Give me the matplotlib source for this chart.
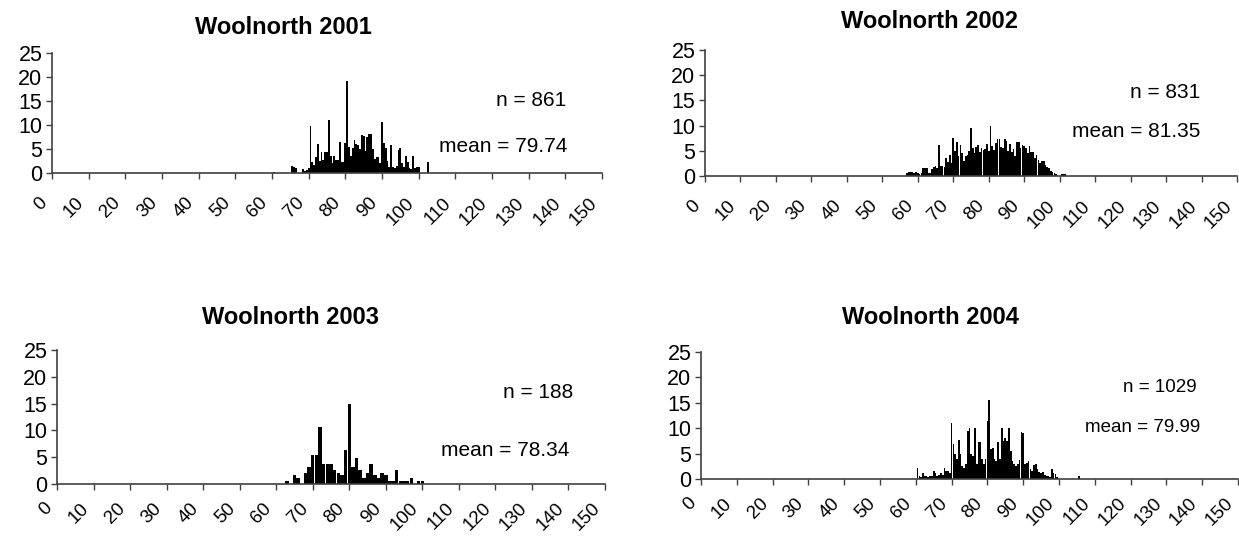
import numpy as np
import matplotlib
matplotlib.use("Agg")
import matplotlib.pyplot as plt
from matplotlib.transforms import ScaledTranslation

plt.rcParams['font.family'] = ['Liberation Sans', 'DejaVu Sans']

W, H = 1239, 536

# ---- data (percent of animals per length class) ----
titles = ["Woolnorth 2001", "Woolnorth 2002", "Woolnorth 2003", "Woolnorth 2004"]
n_text = ["n = 861", "n = 831", "n = 188", "n = 1029"]
mean_text = ["mean = 79.74", "mean = 81.35", "mean = 78.34", "mean = 79.99"]
x_ticks = list(range(0, 151, 10))
y_ticks = list(range(0, 26, 5))

# first length class and class step of each panel
start_2001, step_2001 = 60.0, 0.5
pct_2001 = [0, 0.3, 0, 0, 0, 0, 0, 0, 0, 0, 0, 1.5, 1.2, 1.0, 0, 0, 0, 0.8, 0.5, 0.6,
            1.0, 9.7, 2.3, 1.6, 3.3, 6.1, 2.5, 4.3, 2.8, 4.3, 4.3, 11.0, 3.6, 2.0, 3.5, 2.7,
            2.8, 6.4, 2.3, 2.3, 6.3, 19.2, 5.5, 3.5, 5.3, 6.9, 6.0, 5.8, 5.0, 8.0, 7.8, 4.5,
            7.6, 8.1, 8.1, 5.0, 3.0, 3.4, 3.4, 2.0, 10.6, 6.3, 5.3, 2.5, 1.2, 5.8, 1.2, 1.0,
            1.5, 4.7, 5.3, 2.0, 1.2, 3.5, 2.3, 1.0, 0.8, 3.5, 1.0, 1.2, 1.2, 0, 0, 0, 0, 2.3]

start_2002, step_2002 = 57.0, 0.5
pct_2002 = [0.6, 0.7, 0.7, 0.7, 0.5, 0.7, 0.5, 0.4, 0.5, 1.5, 1.5, 1.5, 0.5, 0.6, 1.3, 1.8,
            2.0, 1.5, 6.2, 2.0, 2.0, 1.8, 3.5, 2.8, 4.2, 2.5, 7.5, 5.0, 6.8, 4.0, 6.2, 4.5,
            3.0, 4.0, 4.2, 5.0, 9.5, 5.5, 4.5, 5.8, 6.1, 4.8, 5.5, 5.2, 5.4, 6.3, 5.0, 10.0,
            6.0, 5.2, 6.5, 7.3, 7.4, 5.8, 5.5, 7.4, 6.9, 5.0, 6.4, 4.8, 5.4, 4.0, 6.8, 6.8,
            5.5, 6.1, 5.9, 5.6, 4.5, 5.9, 4.7, 4.7, 3.5, 4.1, 3.2, 2.5, 3.0, 3.0, 2.2, 1.8,
            1.5, 1.0, 0.8, 0.5, 0.3, 0, 0, 0.3, 0.3, 0.3]

start_2003, step_2003 = 63.0, 1.0
pct_2003 = [0.53, 0, 1.6, 1.06, 0, 2.13, 3.19, 5.32, 5.32, 10.64, 3.72, 3.72, 3.72, 2.66,
            2.13, 1.6, 6.38, 14.89, 3.19, 4.79, 2.66, 1.06, 2.13, 3.72, 1.6, 1.06, 2.13,
            1.6, 0.53, 0.53, 2.66, 0.53, 0.53, 0.53, 1.06, 0, 0.53, 0.53]

start_2004, step_2004 = 60.0, 0.5
pct_2004 = [0, 2.1, 0.5, 0.3, 1.1, 0.6, 0.6, 0.3, 0.6, 0.5, 1.6, 1.2, 0.6, 0.8, 1.2, 0.8,
            2.1, 1.6, 1.5, 1.2, 11.1, 6.8, 5.0, 4.0, 7.6, 5.0, 2.5, 2.2, 3.0, 9.5, 10.0, 5.0,
            4.5, 10.0, 3.0, 7.2, 7.2, 4.0, 3.0, 4.0, 11.5, 15.6, 6.0, 6.2, 4.0, 3.5, 7.2, 4.0,
            10.0, 7.5, 8.0, 7.5, 10.0, 5.5, 3.5, 3.0, 2.5, 3.0, 3.8, 9.2, 9.0, 3.0, 3.2, 3.5,
            2.0, 1.5, 2.8, 3.0, 2.0, 1.3, 1.2, 1.3, 0.7, 0.5, 0.5, 0.3, 2.0, 1.2, 1.0, 0.4,
            0, 0, 0, 0, 0, 0, 0, 0, 0, 0, 0, 0.6]

series = [(start_2001, step_2001, pct_2001),
          (start_2002, step_2002, pct_2002),
          (start_2003, step_2003, pct_2003),
          (start_2004, step_2004, pct_2004)]

# ---- layout (pixels) ----
axes_px = [(52, 53, 602, 173), (705, 50, 1237, 176),
           (57, 350, 605, 484), (701, 352, 1238, 479)]
title_px = [(283, 27), (930, 21), (290, 317), (930, 317)]
n_px = [(566, 100), (1200, 93), (573, 393), (1197, 388)]
mean_px = [(567, 146), (1200, 132), (569, 450), (1200, 427)]
note_size = [15, 15, 15, 13.5]
label_pad = [18, 18, 14, 14]

fig = plt.figure(figsize=(W / 100, H / 100), dpi=100)
axcol = '#404040'

for i in range(4):
    l, t, r, b = axes_px[i]
    ax = fig.add_axes([l / W, (H - b) / H, (r - l) / W, (b - t) / H])
    start, step, vals = series[i]
    lengths = start + step * np.arange(len(vals))
    ax.bar(lengths, vals, width=step * 0.95, color='black', linewidth=0)

    ax.set_xlim(0, 150)
    ax.set_ylim(0, 25)
    ax.set_xticks(x_ticks)
    ax.set_yticks(y_ticks)
    for s in ['top', 'right']:
        ax.spines[s].set_visible(False)
    for s in ['left', 'bottom']:
        ax.spines[s].set_color(axcol)
        ax.spines[s].set_linewidth(1.2)
    ax.tick_params(axis='both', direction='out', length=4, width=1, color=axcol)
    ax.tick_params(axis='y', pad=3, labelsize=15.5)
    ax.tick_params(axis='x', pad=label_pad[i], labelsize=13.5)
    ax.set_xticklabels([str(v) for v in x_ticks], rotation=45, ha='right',
                       va='baseline', rotation_mode='anchor')
    for lab in ax.get_xticklabels():
        lab.set_transform(lab.get_transform() +
                          ScaledTranslation(-0.04, 0, fig.dpi_scale_trans))

    tx, ty = title_px[i]
    fig.text(tx / W, 1 - ty / H, titles[i], ha='center', va='center',
             fontsize=17, fontweight='bold')
    nx, ny = n_px[i]
    fig.text(nx / W, 1 - ny / H, n_text[i], ha='right', va='center',
             fontsize=note_size[i])
    mx, my = mean_px[i]
    fig.text(mx / W, 1 - my / H, mean_text[i], ha='right', va='center',
             fontsize=note_size[i])

fig.savefig("out.png", dpi=100)
